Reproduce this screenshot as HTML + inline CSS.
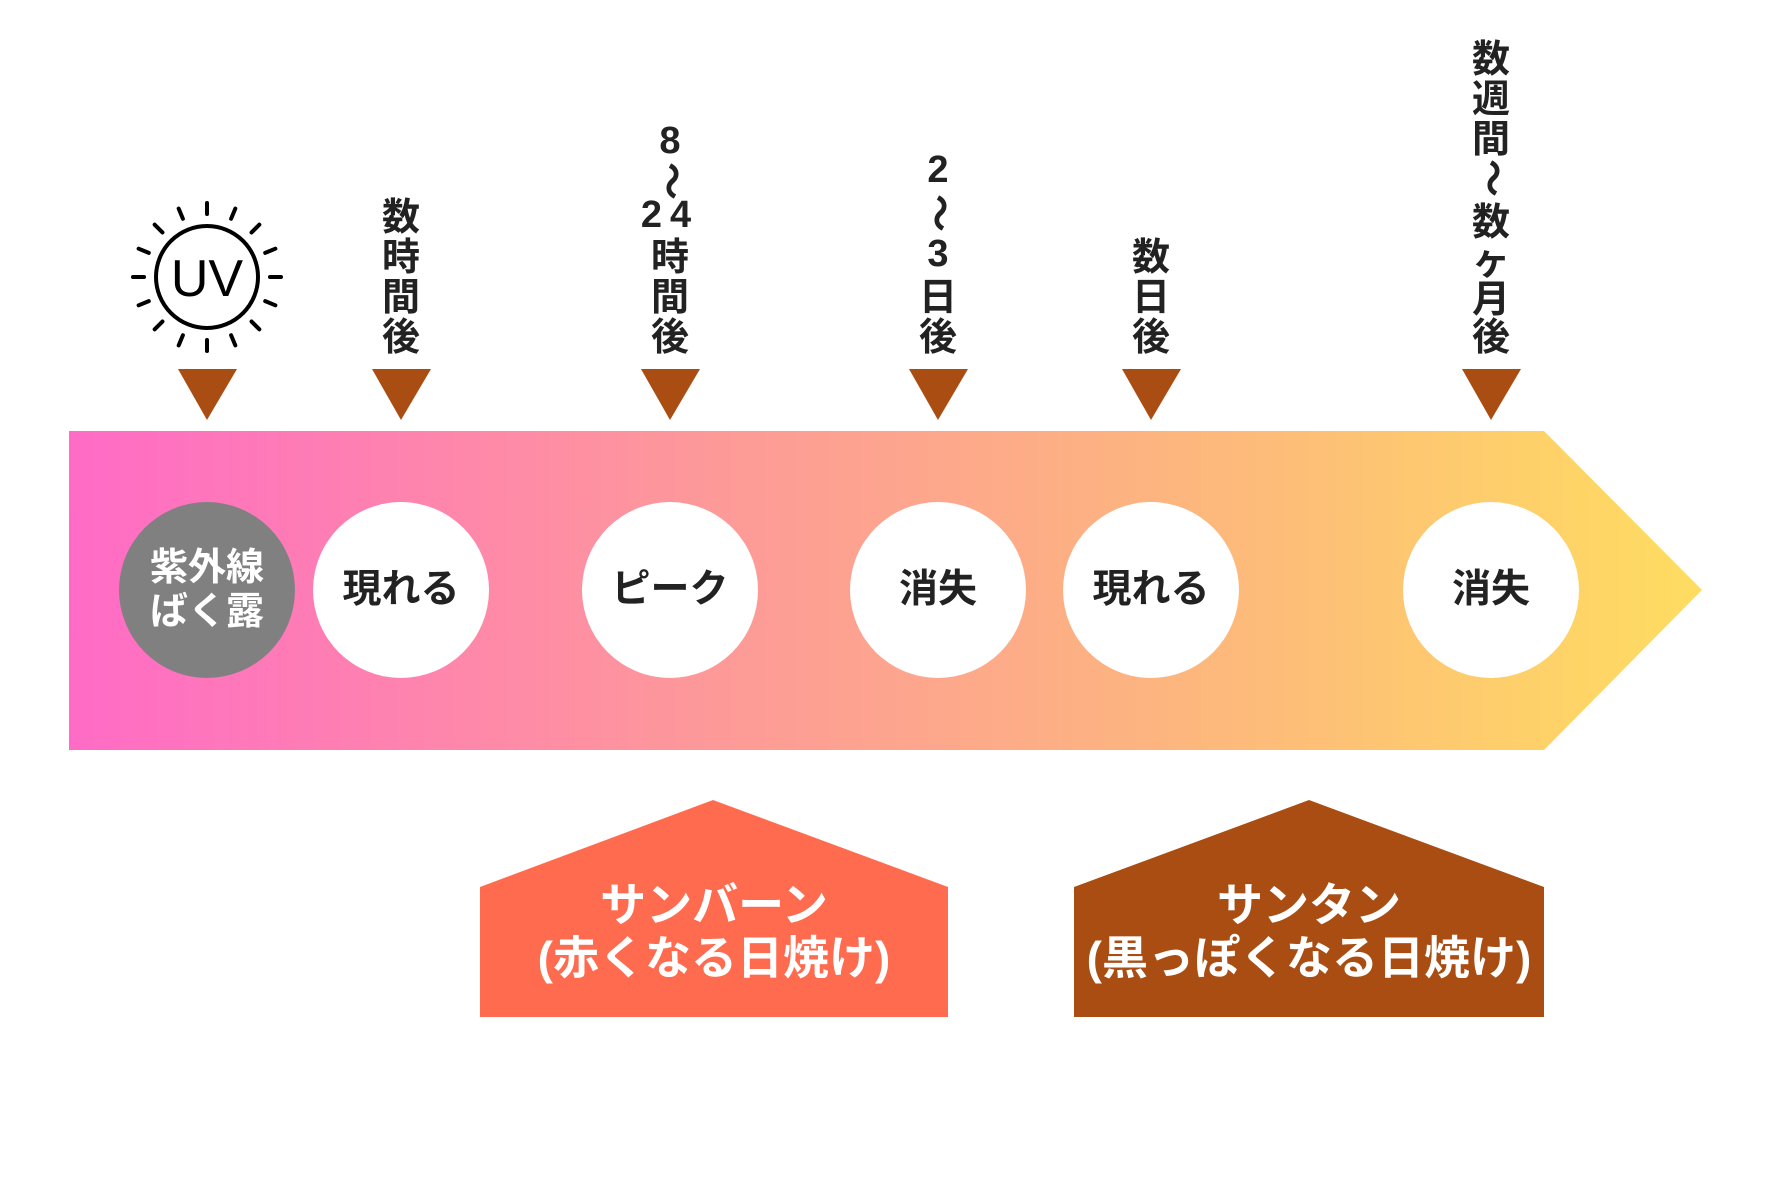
<!DOCTYPE html>
<html><head><meta charset="utf-8"><style>
html,body{margin:0;padding:0;background:#fff}
#c{position:relative;width:1772px;height:1181px;overflow:hidden;font-family:"Liberation Sans","Noto Sans CJK JP",sans-serif;font-weight:bold}
.ch{position:absolute;width:60px;margin-left:-30px;text-align:center;font-size:38px;line-height:40px;height:40px;color:#222}
.ct{position:absolute;text-align:center;font-size:39px;color:#222;line-height:44px}
.ht{position:absolute;text-align:center;font-size:46px;color:#fff;line-height:53px}
.rot{display:inline-block;transform:rotate(90deg)}
</style></head><body><div id="c">
<svg width="1772" height="1181" style="position:absolute;left:0;top:0">
<defs><linearGradient id="g" x1="69" y1="0" x2="1702" y2="0" gradientUnits="userSpaceOnUse">
<stop offset="0" stop-color="#ff6bc6"/><stop offset="0.4" stop-color="#fd9a98"/><stop offset="0.7" stop-color="#fdb87c"/><stop offset="1" stop-color="#fedd60"/></linearGradient></defs>
<polygon points="69,431 1544,431 1702,590 1544,750 69,750" fill="url(#g)"/>
<g fill="#a94d13">
<polygon points="178,369 237,369 207,420"/>
<polygon points="372,369 431,369 401,420"/>
<polygon points="641,369 700,369 670,420"/>
<polygon points="909,369 968,369 938,420"/>
<polygon points="1122,369 1181,369 1151,420"/>
<polygon points="1462,369 1521,369 1491,420"/>
</g>
<circle cx="207" cy="590" r="88" fill="#808080"/>
<g fill="#fff"><circle cx="401" cy="590" r="88"/><circle cx="670" cy="590" r="88"/><circle cx="938" cy="590" r="88"/><circle cx="1151" cy="590" r="88"/><circle cx="1491" cy="590" r="88"/></g>
<polygon points="480,887 713,800 948,887 948,1017 480,1017" fill="#ff6b4f"/>
<polygon points="1074,887 1309,800 1544,887 1544,1017 1074,1017" fill="#a94d12"/>
<circle cx="207" cy="277" r="51" fill="none" stroke="#000" stroke-width="4"/>
<g stroke="#000" stroke-width="4" stroke-linecap="round" id="rays"></g>
<text x="207" y="296" text-anchor="middle" font-family="Liberation Sans, sans-serif" font-weight="normal" font-size="52" fill="#000">UV</text>
</svg>
<script>
var g=document.getElementById('rays'),s='';
for(var i=0;i<16;i++){var a=i*Math.PI/8,c=Math.cos(a),d=Math.sin(a);
s+='<line x1="'+(207+63*c)+'" y1="'+(277+63*d)+'" x2="'+(207+74*c)+'" y2="'+(277+74*d)+'"/>';}
g.innerHTML=s;
</script>
<div class="ct" style="left:119px;top:546px;width:176px;color:#fff;font-size:38px">紫外線<br>ばく露</div>
<div class="ct" style="left:313px;top:568px;width:176px">現れる</div>
<div class="ct" style="left:582px;top:568px;width:176px">ピーク</div>
<div class="ct" style="left:850px;top:568px;width:176px">消失</div>
<div class="ct" style="left:1063px;top:568px;width:176px">現れる</div>
<div class="ct" style="left:1403px;top:568px;width:176px">消失</div>
<div class="ht" style="left:480px;top:879px;width:468px">サンバーン<br>(赤くなる日焼け)</div>
<div class="ht" style="left:1074px;top:879px;width:470px">サンタン<br>(黒っぽくなる日焼け)</div>
<div class="ch" style="left:401px;top:198px">数</div>
<div class="ch" style="left:401px;top:238px">時</div>
<div class="ch" style="left:401px;top:278px">間</div>
<div class="ch" style="left:401px;top:318px">後</div>
<div class="ch" style="left:670px;top:121px">8</div>
<div class="ch" style="left:670px;top:161px"><span class="rot">～</span></div>
<div class="ch" style="left:670px;top:195px;letter-spacing:8px">24</div>
<div class="ch" style="left:670px;top:238px">時</div>
<div class="ch" style="left:670px;top:278px">間</div>
<div class="ch" style="left:670px;top:318px">後</div>
<div class="ch" style="left:938px;top:150px">2</div>
<div class="ch" style="left:938px;top:193px"><span class="rot">～</span></div>
<div class="ch" style="left:938px;top:234px">3</div>
<div class="ch" style="left:938px;top:278px">日</div>
<div class="ch" style="left:938px;top:318px">後</div>
<div class="ch" style="left:1151px;top:238px">数</div>
<div class="ch" style="left:1151px;top:278px">日</div>
<div class="ch" style="left:1151px;top:318px">後</div>
<div class="ch" style="left:1491px;top:40px">数</div>
<div class="ch" style="left:1491px;top:80px">週</div>
<div class="ch" style="left:1491px;top:120px">間</div>
<div class="ch" style="left:1491px;top:158px"><span class="rot">～</span></div>
<div class="ch" style="left:1491px;top:203px">数</div>
<div class="ch" style="left:1491px;top:242px">ヶ</div>
<div class="ch" style="left:1491px;top:280px">月</div>
<div class="ch" style="left:1491px;top:318px">後</div>
</div></body></html>
